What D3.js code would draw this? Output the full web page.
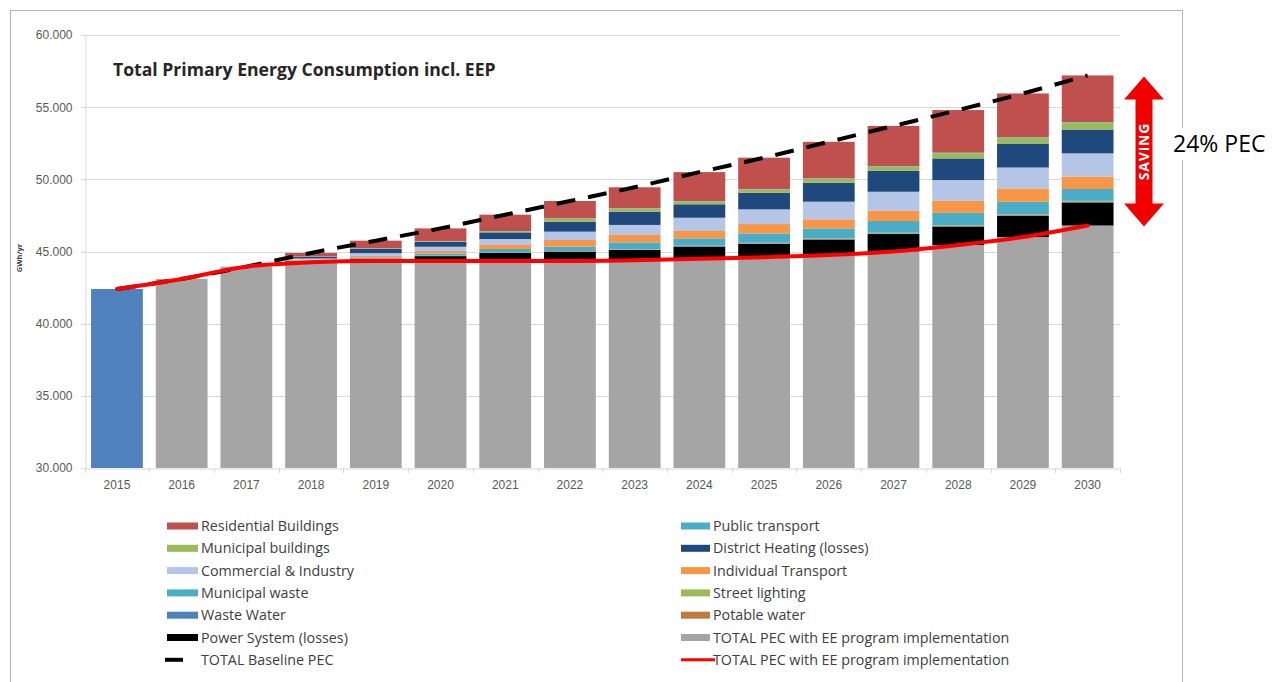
<!DOCTYPE html>
<html>
<head>
<meta charset="utf-8">
<script src="https://cdn.jsdelivr.net/npm/d3@7"></script>
<style>
  html, body { margin: 0; padding: 0; background: #fff; }
  svg { display: block; font-family: "Open Sans", "Liberation Sans", Arial, sans-serif; }
</style>
</head>
<body>
<svg id="chart" width="1277" height="682"></svg>
<script>
// Primary energy consumption (GWh/yr), 2015–2030
const years = [2015, 2016, 2017, 2018, 2019, 2020, 2021, 2022, 2023, 2024, 2025, 2026, 2027, 2028, 2029, 2030];

// Consumption with the EE programme in place (grey bars / red line)
const totalPEC = [42400, 43100, 43950, 44250, 44350, 44350, 44350, 44350, 44400, 44500, 44600, 44750, 45000, 45450, 46000, 46800];
// Baseline consumption without the programme (dashed line)
const totalBaseline = [42400, 43100, 43950, 44900, 45750, 46600, 47550, 48500, 49450, 50500, 51500, 52600, 53700, 54800, 55950, 57200];

// Savings per sector, stacked on top of the grey bars
const powerSystem         = [0, 0, 0, 70, 150, 330, 550, 640, 710, 840, 930, 1080, 1210, 1280, 1480, 1600];
const potableWater        = [0, 0, 0, 5, 5, 10, 15, 15, 20, 20, 25, 25, 30, 30, 30, 30];
const wasteWater          = [0, 0, 0, 5, 5, 10, 15, 15, 20, 20, 25, 30, 30, 40, 40, 40];
const streetLighting      = [0, 0, 0, 5, 5, 10, 15, 15, 20, 20, 25, 25, 30, 30, 40, 40];
const municipalWaste      = [0, 0, 0, 40, 80, 150, 230, 300, 460, 510, 650, 690, 810, 850, 850, 820];
const individualTransport = [0, 0, 0, 50, 90, 170, 320, 460, 510, 510, 645, 630, 710, 830, 930, 870];
const commercialIndustry  = [0, 0, 0, 90, 200, 300, 370, 580, 700, 920, 1020, 1220, 1320, 1440, 1450, 1600];
const districtHeating     = [0, 0, 0, 130, 300, 330, 460, 690, 920, 930, 1150, 1310, 1450, 1500, 1660, 1650];
const municipalBuildings  = [0, 0, 0, 20, 40, 60, 80, 220, 220, 210, 230, 280, 300, 360, 400, 480];
const publicTransport     = [0, 0, 0, 5, 5, 10, 15, 15, 20, 20, 25, 30, 30, 40, 40, 40];
const residential         = [0, 0, 0, 230, 520, 870, 1130, 1200, 1450, 2000, 2175, 2530, 2780, 2950, 3030, 3230];

const yTicks = [30000, 35000, 40000, 45000, 50000, 55000, 60000];

const title = "Total Primary Energy Consumption incl. EEP";
const yTitle = "GWh/yr";
const savingLabel = "SAVING";
const savingNote = "24% PEC";

// Series definitions, bottom of the stack first
const series = [
  { key: "total",  name: "TOTAL PEC with EE program implementation", values: totalPEC,            color: "#a5a5a5" },
  { key: "power",  name: "Power System (losses)",                    values: powerSystem,         color: "#000000" },
  { key: "potw",   name: "Potable water",                            values: potableWater,        color: "#c07a3d" },
  { key: "waste",  name: "Waste Water",                              values: wasteWater,          color: "#4f81bd" },
  { key: "street", name: "Street lighting",                          values: streetLighting,      color: "#9bbb59" },
  { key: "mwaste", name: "Municipal  waste",                         values: municipalWaste,      color: "#4bacc6" },
  { key: "indtr",  name: "Individual Transport",                     values: individualTransport, color: "#f79646" },
  { key: "comm",   name: "Commercial & Industry",                    values: commercialIndustry,  color: "#b4c5e6" },
  { key: "dh",     name: "District Heating (losses)",                values: districtHeating,     color: "#1f497d" },
  { key: "mbuild", name: "Municipal buildings",                      values: municipalBuildings,  color: "#9bbb59" },
  { key: "pubtr",  name: "Public transport",                         values: publicTransport,     color: "#4bacc6" },
  { key: "resid",  name: "Residential Buildings",                     values: residential,         color: "#c0504d" }
];
const firstYearColor = "#4f81bd";
const colorOf = Object.fromEntries(series.map(s => [s.key, s.color]));

const table = years.map((yr, i) => {
  const row = { year: yr };
  series.forEach(s => { row[s.key] = s.values[i]; });
  return row;
});

const svg = d3.select("#chart");

// Outer frame
svg.append("rect")
  .attr("x", 10.5).attr("y", 10.5).attr("width", 1172).attr("height", 700)
  .attr("fill", "none").attr("stroke", "#b4b4b4").attr("stroke-width", 1);

const plot = { left: 84.6, right: 1120, top: 35, bottom: 468 };

const x = d3.scaleBand().domain(years).range([plot.left, plot.right])
  .paddingInner(0.2).paddingOuter(0.1);
const y = d3.scaleLinear().domain([30000, 60000]).range([plot.bottom, plot.top]);

const euro = d3.formatLocale({ decimal: ",", thousands: ".", grouping: [3], currency: ["", "€"] });
const fmt = euro.format(",.0f");

// Gridlines
svg.append("g").selectAll("line").data(yTicks.filter(t => t > 30000)).join("line")
  .attr("x1", plot.left - 3).attr("x2", plot.right)
  .attr("y1", d => Math.round(y(d)) + 0.5).attr("y2", d => Math.round(y(d)) + 0.5)
  .attr("stroke", "#d9d9d9").attr("stroke-width", 1);

// Y axis
const yAxis = svg.append("g")
  .attr("transform", `translate(${Math.round(plot.left) + 0.5},0)`)
  .call(d3.axisLeft(y).tickValues(yTicks).tickFormat(fmt).tickSize(4).tickPadding(9));
yAxis.select(".domain").attr("stroke", "#d9d9d9");
yAxis.selectAll(".tick line").attr("stroke", "#d9d9d9");
yAxis.selectAll("text").attr("fill", "#595959").style("font-size", "12px");

svg.append("text")
  .attr("transform", "translate(22,258) rotate(-90)")
  .attr("text-anchor", "middle")
  .attr("fill", "#404040").style("font-size", "7.5px").style("font-weight", "bold")
  .text(yTitle);

// Stacked bars
const stack = d3.stack().keys(series.map(s => s.key));
const layers = stack(table);

svg.append("g").selectAll("g").data(layers).join("g")
  .selectAll("rect").data(d => d.map(v => ({ key: d.key, v })))
  .join("rect")
  .attr("x", d => x(d.v.data.year))
  .attr("width", x.bandwidth())
  .attr("y", d => y(Math.max(d.v[1], 30000)))
  .attr("height", d => Math.max(0, y(Math.max(d.v[0], 30000)) - y(Math.max(d.v[1], 30000))))
  .attr("fill", d => (d.key === "total" && d.v.data.year === years[0]) ? firstYearColor : colorOf[d.key]);

// X axis
const xAxis = svg.append("g")
  .attr("transform", `translate(0,${plot.bottom + 0.5})`)
  .call(d3.axisBottom(x).tickSize(0).tickPadding(12));
xAxis.select(".domain").attr("stroke", "#d9d9d9");
xAxis.selectAll("text").attr("fill", "#595959").style("font-size", "12px");
// tick marks between categories
svg.append("g").selectAll("line").data(d3.range(years.length + 1)).join("line")
  .attr("x1", i => Math.round(plot.left + i * x.step()) + 0.5)
  .attr("x2", i => Math.round(plot.left + i * x.step()) + 0.5)
  .attr("y1", plot.bottom).attr("y2", plot.bottom + 5)
  .attr("stroke", "#d9d9d9");

// Lines
const cx = yr => x(yr) + x.bandwidth() / 2;
const baselineLine = d3.line().x((d, i) => cx(years[i])).y(d => y(d)).curve(d3.curveMonotoneX);
const pecLine = d3.line().x((d, i) => cx(years[i])).y(d => y(d)).curve(d3.curveMonotoneX);

svg.append("path").datum(totalBaseline)
  .attr("d", baselineLine)
  .attr("fill", "none").attr("stroke", "#000").attr("stroke-width", 4)
  .attr("stroke-dasharray", "19,13");

svg.append("path").datum(totalPEC)
  .attr("d", pecLine)
  .attr("fill", "none").attr("stroke", "#ff0000").attr("stroke-width", 4)
  .attr("stroke-linejoin", "round").attr("stroke-linecap", "round");

// Title
svg.append("text")
  .attr("x", 113).attr("y", 76)
  .attr("fill", "#262626").style("font-size", "17.6px").style("font-weight", "bold")
  .text(title);

// Saving arrow spanning the 2030 gap between baseline and programme totals
const last = years.length - 1;
const aTop = y(totalBaseline[last]) + 1;
const aBot = y(totalPEC[last]) + 1;
const ax = 1144, shaftHalf = 8.5, headHalf = 20, headLen = 23;
const arrowPath = [
  [ax, aTop], [ax + headHalf, aTop + headLen], [ax + shaftHalf, aTop + headLen],
  [ax + shaftHalf, aBot - headLen], [ax + headHalf, aBot - headLen], [ax, aBot],
  [ax - headHalf, aBot - headLen], [ax - shaftHalf, aBot - headLen],
  [ax - shaftHalf, aTop + headLen], [ax - headHalf, aTop + headLen]
];
svg.append("path")
  .attr("d", d3.line()(arrowPath) + "Z")
  .attr("fill", "#f00000");
svg.append("text")
  .attr("transform", `translate(${ax + 5},${(aTop + aBot) / 2}) rotate(-90)`)
  .attr("text-anchor", "middle")
  .attr("fill", "#ffffff").style("font-size", "14px").style("font-weight", "bold")
  .style("letter-spacing", "0.8px")
  .text(savingLabel);

// Saving note (sits on a white box over the frame)
svg.append("rect").attr("x", 1170).attr("y", 128).attr("width", 104).attr("height", 32).attr("fill", "#fff");
svg.append("text")
  .attr("x", 1173).attr("y", 152)
  .attr("fill", "#000").style("font-size", "23px")
  .text(savingNote);

// Legend
const legendLeft = [
  { name: "Residential Buildings", color: colorOf.resid },
  { name: "Municipal buildings", color: colorOf.mbuild },
  { name: "Commercial & Industry", color: colorOf.comm },
  { name: "Municipal  waste", color: colorOf.mwaste },
  { name: "Waste Water", color: colorOf.waste },
  { name: "Power System (losses)", color: colorOf.power },
  { name: "TOTAL Baseline PEC", line: "dash" }
];
const legendRight = [
  { name: "Public transport", color: colorOf.pubtr },
  { name: "District Heating (losses)", color: colorOf.dh },
  { name: "Individual Transport", color: colorOf.indtr },
  { name: "Street lighting", color: colorOf.street },
  { name: "Potable water", color: colorOf.potw },
  { name: "TOTAL PEC with EE program implementation", color: colorOf.total },
  { name: "TOTAL PEC with EE program implementation", line: "red" }
];

function drawLegend(items, sx, tx) {
  const g = svg.append("g");
  items.forEach((it, i) => {
    const cy = 526 + i * 22.3;
    if (it.line === "dash") {
      g.append("line").attr("x1", sx - 2).attr("x2", sx + 16).attr("y1", cy).attr("y2", cy)
        .attr("stroke", "#000").attr("stroke-width", 4);
    } else if (it.line === "red") {
      g.append("line").attr("x1", sx).attr("x2", tx + 2).attr("y1", cy).attr("y2", cy)
        .attr("stroke", "#ff0000").attr("stroke-width", 3);
    } else {
      g.append("rect").attr("x", sx).attr("y", cy - 3.5).attr("width", tx - sx - 3).attr("height", 7)
        .attr("fill", it.color);
    }
    g.append("text").attr("x", tx).attr("y", cy + 5)
      .attr("fill", "#404040").style("font-size", "14.3px")
      .text(it.name);
  });
}
drawLegend(legendLeft, 167, 201);
drawLegend(legendRight, 681, 713);
</script>
</body>
</html>
